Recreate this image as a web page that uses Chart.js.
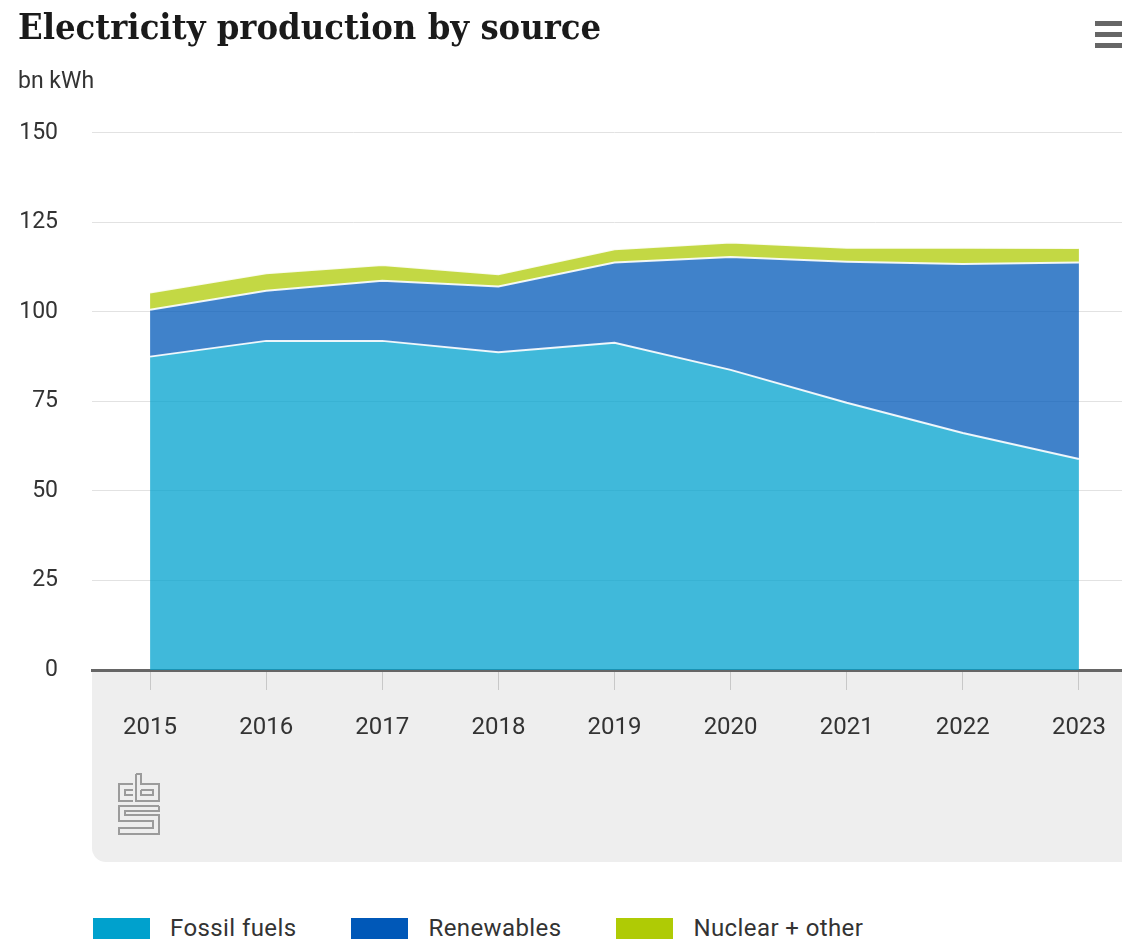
<!DOCTYPE html>
<html>
<head>
<meta charset="utf-8">
<title>Electricity production by source</title>
<script src="https://cdn.jsdelivr.net/npm/chart.js@4.4.1/dist/chart.umd.min.js"></script>
<style>
    html, body {
        margin: 0;
        padding: 0;
        background: #fff;
        width: 1122px;
        height: 942px;
        overflow: hidden;
    }
    #wrap {
        position: absolute;
        left: 0;
        top: 0;
        width: 1140px;
        height: 870px;
    }
    #legend {
        position: absolute;
        left: 93px;
        top: 914px;
        display: flex;
        font-family: Roboto, sans-serif;
        font-size: 24px;
        letter-spacing: 0.4px;
        color: #333;
    }
    .item {
        display: flex;
        align-items: center;
        margin-right: 55px;
    }
    .box {
        width: 57px;
        height: 21px;
        margin-right: 20px;
    }
</style>
</head>
<body>
<div id="wrap"><canvas id="myChart"></canvas></div>
<div id="legend"></div>
<script>
const years = ["2015", "2016", "2017", "2018", "2019", "2020", "2021", "2022", "2023"];
const fossil = [87.5, 91.9, 91.9, 88.7, 91.4, 83.8, 74.6, 66.2, 58.9];
const renewables = [13.1, 14.0, 16.8, 18.4, 22.4, 31.5, 39.4, 47.2, 54.9];
const nuclear = [4.8, 4.9, 4.4, 3.4, 3.7, 4.1, 3.9, 4.5, 4.0];
const yTicks = [0, 25, 50, 75, 100, 125, 150];

const seriesNames = ["Fossil fuels", "Renewables", "Nuclear + other"];
const colors = ["#00a1cd", "#0058b8", "#afcb05"];
const fills = ["rgba(0,161,205,0.75)", "rgba(0,88,184,0.75)", "rgba(175,203,5,0.75)"];

// gray panel under the x axis, menu icon and cbs logo
const decor = {
    id: "decor",
    beforeDraw(chart) {
        const ctx = chart.ctx;
        const a = chart.chartArea;
        const bottom = chart.scales.x.bottom;
        ctx.save();
        ctx.fillStyle = "#eeeeee";
        ctx.beginPath();
        ctx.roundRect(a.left, a.bottom, chart.width - a.left + 20, bottom - a.bottom, [0, 0, 0, 14]);
        ctx.fill();
        ctx.restore();
    },
    afterDraw(chart) {
        const ctx = chart.ctx;
        ctx.save();
        // menu
        ctx.fillStyle = "#666";
        [21, 32, 43].forEach((y) => ctx.fillRect(1095, y, 30, 5));
        // logo
        ctx.strokeStyle = "#9b9b9b";
        ctx.lineWidth = 2;
        const paths = [
            [[133, 784], [119, 784], [119, 801], [133, 801]],
            [[133, 790], [125, 790], [125, 795], [133, 795]],
            [[136, 774], [141, 774], [141, 784], [159, 784], [159, 801], [136, 801], [136, 774]],
            [[141, 790], [153, 790], [153, 795], [141, 795], [141, 790]],
            [[159, 806], [119, 806], [119, 821], [153, 821], [153, 828], [119, 828], [119, 834], [159, 834], [159, 815], [125, 815], [125, 811], [159, 811], [159, 806]],
        ];
        paths.forEach((p) => {
            ctx.beginPath();
            p.forEach(([x, y], i) => (i ? ctx.lineTo(x, y) : ctx.moveTo(x, y)));
            ctx.stroke();
        });
        ctx.restore();
    },
};

const ctx = document.getElementById("myChart");

const chart = new Chart(ctx, {
    type: "line",
    data: {
        labels: years,
        datasets: [fossil, renewables, nuclear].map((values, i) => ({
            label: seriesNames[i],
            data: values,
            backgroundColor: fills[i],
            borderColor: "rgba(255,255,255,0.9)",
            borderWidth: 2,
            pointRadius: 0,
            tension: 0,
            fill: i === 0 ? "origin" : "-1",
            legendColor: colors[i],
        })),
    },
    options: {
        responsive: true,
        maintainAspectRatio: false,
        animation: false,
        layout: {
            padding: { top: 4, left: 18, right: 3, bottom: 8 },
        },
        plugins: {
            legend: { display: false },
            tooltip: { enabled: false },
            title: {
                display: true,
                text: "Electricity production by source",
                align: "start",
                color: "#1a1a1a",
                font: { family: "'DejaVu Serif Condensed', 'Liberation Serif', serif", size: 36, weight: "bold" },
                padding: { top: 4, bottom: 17 },
            },
            subtitle: {
                display: true,
                text: "bn kWh",
                align: "start",
                color: "#333",
                font: { family: "Roboto, sans-serif", size: 23 },
                padding: { bottom: 37 },
            },
        },
        scales: {
            x: {
                offset: true,
                grid: {
                    drawOnChartArea: false,
                    drawTicks: true,
                    tickLength: 20,
                    color: "#c8c8c8",
                },
                border: { color: "#666", width: 3 },
                ticks: {
                    color: "#333",
                    font: { family: "Roboto, sans-serif", size: 24 },
                    padding: 24,
                    maxRotation: 0,
                },
                afterFit(scale) {
                    scale.height = 192;
                },
            },
            y: {
                stacked: true,
                min: 0,
                max: 150,
                afterBuildTicks(axis) {
                    axis.ticks = yTicks.map((v) => ({ value: v }));
                },
                grid: {
                    color: "#e2e2e2",
                    drawTicks: false,
                },
                border: { display: false },
                ticks: {
                    color: "#333",
                    font: { family: "Roboto, sans-serif", size: 23 },
                    padding: 34,
                },
                afterFit(scale) {
                    scale.width = 74;
                },
            },
        },
    },
    plugins: [decor],
});

// html legend
const legendEl = document.getElementById("legend");
chart.data.datasets.forEach((ds) => {
    const item = document.createElement("div");
    item.className = "item";
    const box = document.createElement("span");
    box.className = "box";
    box.style.background = ds.legendColor;
    const text = document.createElement("span");
    text.textContent = ds.label;
    item.appendChild(box);
    item.appendChild(text);
    legendEl.appendChild(item);
});
</script>
</body>
</html>
